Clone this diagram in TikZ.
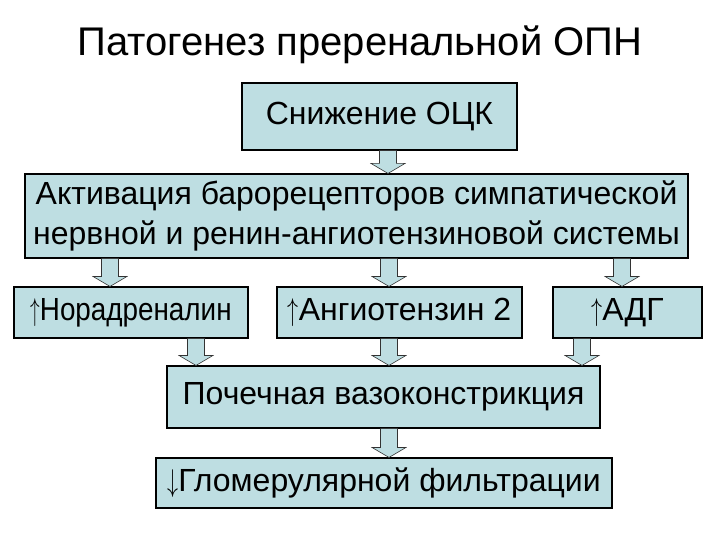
\documentclass[tikz,border=0pt]{standalone}
\usepackage{fontspec}
\usepackage{graphicx}
\setmainfont{Liberation Sans}
\usetikzlibrary{calc}
\definecolor{boxfill}{RGB}{190,222,226}

% block arrow from the bottom of #2 to the top of #3, at x = #1
\newcommand{\blockarr}[3]{%
  \coordinate (ta) at (#1,0 |- #2.south);
  \coordinate (tb) at (#1,0 |- #3.north);
  \draw[blockarrow] ($(ta)+(-8.5,0)$) -- ($(tb)+(-8.5,-10)$) -- ($(tb)+(-17,-10)$) -- (tb)
    -- ($(tb)+(17,-10)$) -- ($(tb)+(8.5,-10)$) -- ($(ta)+(8.5,0)$) -- cycle;
}
\newcommand{\up}{\scalebox{0.7}[1]{\resizebox*{!}{28pt}{$\uparrow$}}}
\newcommand{\down}{\scalebox{0.7}[1]{\resizebox*{!}{28pt}{$\downarrow$}}}

\begin{document}
\begin{tikzpicture}[x=1pt,y=-1pt,
    box/.style={draw=black, line width=1.1pt, fill=boxfill, inner sep=0pt,
      font=\fontsize{32}{40}\selectfont, align=center},
    blockarrow/.style={draw=black!80, line width=0.6pt, fill=boxfill, line join=miter}]
  \useasboundingbox (0,0) rectangle (720,540);

  \node (title) at (360,45) {\fontsize{40}{48}\selectfont Патогенез преренальной ОПН};

  \node[box, minimum width=275, minimum height=67] (ock) at (379.5,116.5) {Снижение ОЦК};
  \node[box, minimum width=663, minimum height=84] (baro) at (356.5,216)
    {Активация барорецепторов симпатической\\нервной и ренин-ангиотензиновой системы};

  \node[box, minimum width=234, minimum height=51] (nor) at (131,312.5) {\scalebox{0.87}[1]{\up Норадреналин}};
  \node[box, minimum width=245, minimum height=51] (ang) at (399.5,312.5) {\up Ангиотензин 2};
  \node[box, minimum width=149, minimum height=51] (adg) at (627.5,312.5) {\up АДГ};

  \node[box, minimum width=433, minimum height=62] (vaso) at (383.5,397) {Почечная вазоконстрикция};
  \node[box, minimum width=456, minimum height=50] (gfr) at (384,483) {\down Гломерулярной фильтрации};

  \blockarr{388}{ock}{baro}
  \blockarr{110}{baro}{nor}
  \blockarr{389}{baro}{ang}
  \blockarr{622}{baro}{adg}
  \blockarr{196}{nor}{vaso}
  \blockarr{389}{ang}{vaso}
  \blockarr{582}{adg}{vaso}
  \blockarr{389}{vaso}{gfr}
\end{tikzpicture}
\end{document}
